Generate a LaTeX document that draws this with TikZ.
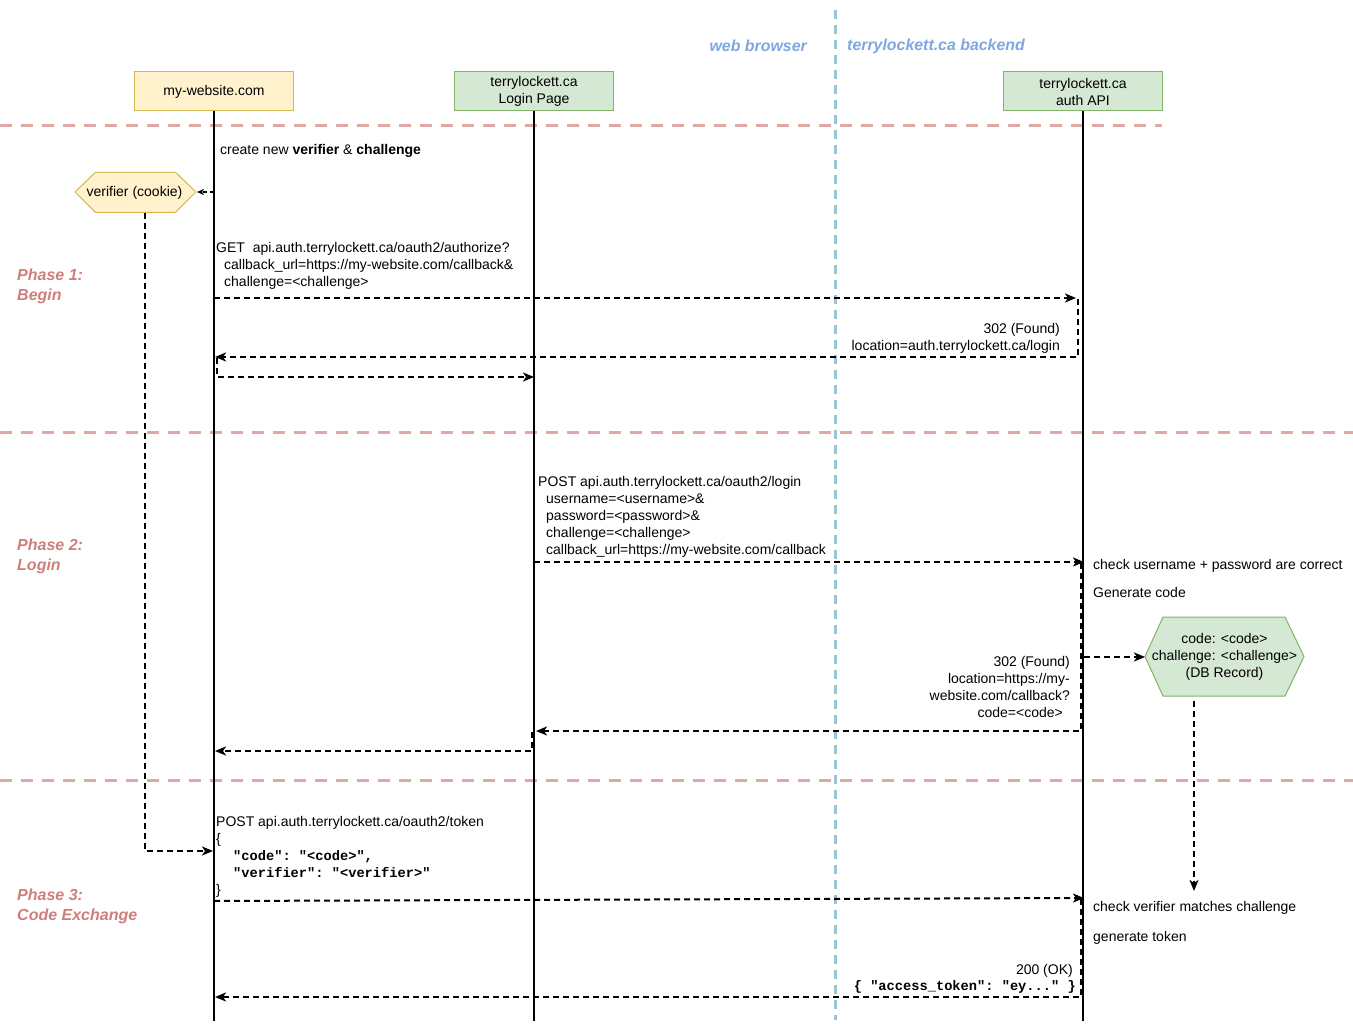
\documentclass[tikz,border=0pt]{standalone}
\usepackage{fontspec}
\setmainfont{Liberation Sans}
\newfontfamily\codefont{Liberation Mono}
\usetikzlibrary{arrows.meta}
\definecolor{yfill}{HTML}{FFF2CC}
\definecolor{ydraw}{HTML}{D6B656}
\definecolor{gfill}{HTML}{D5E8D4}
\definecolor{gdraw}{HTML}{82B366}
\definecolor{phasecol}{RGB}{207,126,124}
\definecolor{sepred}{RGB}{223,168,164}
\definecolor{sepblue}{RGB}{154,196,220}
\definecolor{headblue}{HTML}{7EA6E0}
\begin{document}
\begin{tikzpicture}[x=1pt,y=-1pt,
  every node/.style={inner sep=0pt, font=\fontsize{14}{17}\selectfont},
  ybox/.style={draw=ydraw, fill=yfill, line width=1pt, minimum width=159pt, minimum height=39pt, align=center},
  gbox/.style={draw=gdraw, fill=gfill, line width=1pt, minimum width=159pt, minimum height=39pt, align=center},
  lifeline/.style={line width=2pt},
  msg/.style={dash pattern=on 6pt off 4pt, line width=2pt, -{Stealth[length=11pt,width=9pt,inset=3pt]}},
  sepline/.style={draw=sepred, line width=3pt, dash pattern=on 12pt off 9pt},
  bluesep/.style={draw=sepblue, line width=3pt, dash pattern=on 9pt off 6pt},
  phase/.style={text=phasecol, font=\fontsize{16}{20}\selectfont\bfseries\itshape, align=left, anchor=north west},
  head/.style={text=headblue, font=\fontsize{15.9}{18}\selectfont\bfseries\itshape},
  txt/.style={align=left},
  code/.style={font=\fontsize{13.7}{17}\selectfont\codefont\bfseries},
]
\useasboundingbox (0,0) rectangle (1353,1024);

% separators
\coordinate (s1a) at (0,126); \coordinate (s1b) at (1162,126);
\coordinate (s2a) at (0,432); \coordinate (s2b) at (1353,432);
\coordinate (s3a) at (0,780); \coordinate (s3b) at (1353,780);
\draw[sepline] (s1a) -- (s1b);
\draw[sepline] (s2a) -- (s2b);
\draw[sepline] (s3a) -- (s3b);
\coordinate (bt) at (835,10); \coordinate (bb) at (835,1020);
\draw[bluesep] (bt) -- (bb);

% headers
\node[head, anchor=base east] (hweb) at (807,51.5) {web browser};
\node[head, anchor=base west] (hback) at (847,51) {terrylockett.ca backend};

% participants
\node[ybox] (web) at (214,91.5) {my-website.com};
\node[gbox] (login) at (534,91.5) {terrylockett.ca\\Login Page};
\node[gbox] (api) at (1083,91.5) {terrylockett.ca\\auth API};
\coordinate (webEnd) at (214,1021);
\coordinate (loginEnd) at (534,1021);
\coordinate (apiEnd) at (1083,1021);
\draw[lifeline] (web.south) -- (webEnd);
\draw[lifeline] (login.south) -- (loginEnd);
\draw[lifeline] (api.south) -- (apiEnd);

% phase labels
\node[phase] (p1) at (17,269) {Phase 1:\\Begin};
\node[phase] (p2) at (17,539) {Phase 2:\\Login};
\node[phase] (p3) at (17,889) {Phase 3:\\Code Exchange};

% Phase 1
\node[anchor=base west] (create) at (220,154.5) {create new \textbf{verifier} \& \textbf{challenge}};
\draw[draw=ydraw, fill=yfill, line width=1pt] (75,192) -- (95.5,172.3) -- (175.5,172.3) -- (196,192) -- (175.5,212.3) -- (95.5,212.3) -- cycle;
\node (ver) at (134.5,192.8) {verifier (cookie)};
\coordinate (verR) at (197,192);
\coordinate (webV) at (214,192);
\draw[dash pattern=on 4pt off 3pt, line width=1.4pt, -{Stealth[length=7pt,width=6pt,inset=2pt]}] (webV) -- (verR);
\coordinate (verB) at (145,213);
\coordinate (verC) at (145,851);
\coordinate (webT) at (213,851);
\draw[msg] (verB) -- (verC) -- (webT);

\node[txt, anchor=north west] (get) at (216,241.8) {GET\ \ api.auth.terrylockett.ca/oauth2/authorize?\\\hspace*{8pt}callback\_url=https://my-website.com/callback\&\\\hspace*{8pt}challenge=<challenge>};
\coordinate (m1a) at (214,298); \coordinate (m1b) at (1076,298);
\draw[msg] (m1a) -- (m1b);
\node[txt, align=right, anchor=north east] (found1) at (1060,322.8) {302 (Found)\\location=auth.terrylockett.ca/login};
\coordinate (m2a) at (1078,299); \coordinate (m2b) at (1078,357); \coordinate (m2c) at (215,357);
\draw[msg] (m2a) -- (m2b) -- (m2c);
\coordinate (m3a) at (217,358); \coordinate (m3b) at (217,377); \coordinate (m3c) at (534,377);
\draw[msg] (m3a) -- (m3b) -- (m3c);

% Phase 2
\node[txt, anchor=north west] (postlogin) at (538,475.8) {POST api.auth.terrylockett.ca/oauth2/login\\\hspace*{8pt}username=<username>\&\\\hspace*{8pt}password=<password>\&\\\hspace*{8pt}challenge=<challenge>\\\hspace*{8pt}callback\_url=https://my-website.com/callback};
\coordinate (m4a) at (534,562); \coordinate (m4b) at (1084,562);
\draw[msg] (m4a) -- (m4b);
\node[anchor=base west] (chk1) at (1093,569) {check username + password are correct};
\node[anchor=base west] (gen1) at (1093,597) {Generate code};
\draw[draw=gdraw, fill=gfill, line width=1pt] (1145,656.5) -- (1163,617) -- (1285,617) -- (1304,656.5) -- (1285,696) -- (1163,696) -- cycle;
\node[align=center] (db) at (1224.5,657) {code: <code>\\challenge: <challenge>\\(DB Record)};
\coordinate (dbL) at (1145,657);
\coordinate (apiD) at (1084,657);
\draw[msg] (apiD) -- (dbL);
\node[txt, align=right, anchor=north east] (found2) at (1070,655.8) {302 (Found)\\location=https://my-\\website.com/callback?\\code=<code>\hspace*{7pt}};
\coordinate (m5a) at (1081,563); \coordinate (m5b) at (1081,731); \coordinate (m5c) at (536,731);
\draw[msg] (m5a) -- (m5b) -- (m5c);
\coordinate (m6a) at (532,732); \coordinate (m6b) at (532,751); \coordinate (m6c) at (215,751);
\draw[msg] (m6a) -- (m6b) -- (m6c);
\coordinate (dbB) at (1194,701);
\coordinate (dbT) at (1194,891);
\draw[msg] (dbB) -- (dbT);

% Phase 3
\node[txt, anchor=north west] (posttok) at (216,815.8) {\fontsize{14}{17.2}\selectfont POST api.auth.terrylockett.ca/oauth2/token\\\{\\\hspace*{17pt}{\fontsize{13.7}{17.2}\selectfont\codefont\bfseries "code":\ "<code>",}\\\hspace*{17pt}{\fontsize{13.7}{17.2}\selectfont\codefont\bfseries "verifier":\ "<verifier>"}\\\}};
\coordinate (m7a) at (214,901); \coordinate (m7b) at (1084,898);
\draw[msg] (m7a) -- (m7b);
\node[anchor=base west] (chk2) at (1093,911) {check verifier matches challenge};
\node[anchor=base west] (gen2) at (1093,941) {generate token};
\node[anchor=base east] (ok) at (1073,974) {200 (OK)};
\node[code, anchor=base east] (tok) at (1076,990) {\{ "access\_token":\ "ey..." \}};
\coordinate (m8a) at (1081,899); \coordinate (m8b) at (1081,997); \coordinate (m8c) at (215,997);
\draw[msg] (m8a) -- (m8b) -- (m8c);
\end{tikzpicture}
\end{document}
